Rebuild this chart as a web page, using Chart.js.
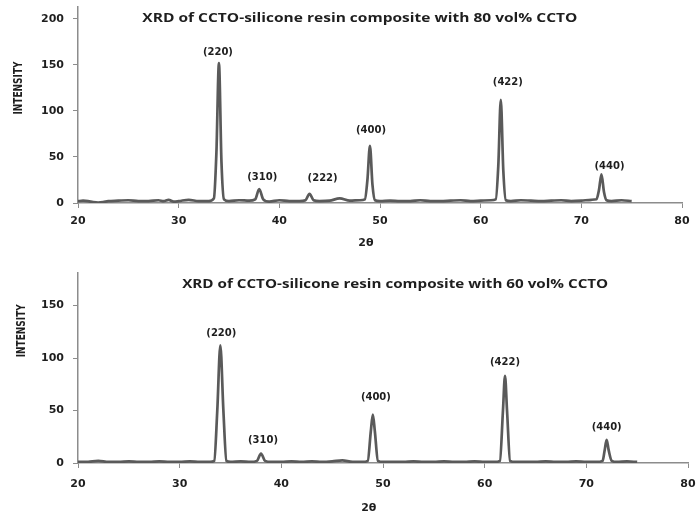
<!DOCTYPE html>
<html>
<head>
<meta charset="utf-8">
<script src="https://cdn.jsdelivr.net/npm/chart.js@4"></script>
<style>
html,body{margin:0;padding:0;background:#fff;}
#wrap{position:relative;width:698px;height:513px;}
#c1{position:absolute;left:0;top:0;}
#c2{position:absolute;left:0;top:256px;}
</style>
</head>
<body>
<div id="wrap">
<canvas id="c1" width="698" height="256"></canvas>
<canvas id="c2" width="698" height="257"></canvas>
</div>
<script>
// ---- data: 80 vol% CCTO ----
const topTitle = "XRD of CCTO-silicone resin composite with 80 vol% CCTO";
const topX = [20,20.5,21,21.5,22,22.5,23,24,25,26,27,28,28.5,29,29.5,30,31,32,33,33.5,33.75,34,34.25,34.5,35,36,37,37.6,38,38.4,39,40,41,42,42.6,43,43.4,44,45,46,47,48,48.5,48.75,49,49.25,49.5,50,51,52,53,54,55,56,57,58,59,60,61,61.5,61.75,62,62.25,62.5,63,64,65,66,67,68,69,70,71,71.5,71.75,72,72.25,72.5,73,74,75];
const topY = [2,2.5,2,1,0.5,1,2,2.5,3,2,2,3,2,3.5,1.5,2,3.5,2,2,5,55,152,45,4,2,3,2.5,4,15,4,1.5,3,2,2,3,10,3,2,2.5,5,2.5,3,4,25,62,20,3,2,2.5,2,2,3,2,2,2.5,3,2,2.5,3,4,40,112,35,3,2,3,2.5,2,2.5,3,2,2.5,3.5,4,14,31,12,3,2,3,2];
const topPeakNames = ["(220)","(310)","(222)","(400)","(422)","(440)"];
const topPeakLabelX = [33.9,38.3,44.3,49.1,62.7,72.8];
const topPeakLabelY = [164,28,27,79,131.5,40];

// ---- data: 60 vol% CCTO ----
const botTitle = "XRD of CCTO-silicone resin composite with 60 vol% CCTO";
const botX = [20,21,22,23,24,25,26,27,28,29,30,31,32,33,33.4,33.7,34,34.3,34.6,35,36,37,37.6,38,38.4,39,40,41,42,43,44,45,46,47,48,48.5,48.8,49,49.2,49.5,50,51,52,53,54,55,56,57,58,59,60,61,61.5,61.8,62,62.2,62.5,63,64,65,66,67,68,69,70,71,71.6,71.8,72,72.2,72.5,73,74,75];
const botY = [1,1.2,2,1,1,1.5,1,1,1.5,1,1,1.5,1,1,2,50,112,50,2,1,1.5,1,2,9,2,1,1,1.5,1,1.5,1,1.5,2.5,1,1,2,30,46,30,2,1,1,1,1.5,1,1,1.5,1,1,1.5,1,1,2,50,83,50,2,1,1,1,1.5,1,1,1.5,1,1,2,12,22,12,2,1,1.5,1];
const botPeakNames = ["(220)","(310)","(400)","(422)","(440)"];
const botPeakLabelX = [34.1,38.2,49.3,62.0,72.0];
const botPeakLabelY = [123,21.7,62.8,96.3,34.1];

const xTickStep = 10;
const yTickStep = 50;
const axisTitleX = "2θ";
const axisTitleY = "INTENSITY";

const LINE = '#5a5a5a';
const AXIS = '#8c8c8c';
const TXT = '#1e1e1e';
const tickFont = {family:"'DejaVu Sans'", size:11, weight:'bold'};

function textPlugin(cfg){
  return {
    id:'txt'+cfg.id,
    afterDraw(chart){
      const ctx = chart.ctx, xs = chart.scales.x, ys = chart.scales.y, a = chart.chartArea;
      ctx.save();
      ctx.fillStyle = TXT;
      ctx.textBaseline = 'middle';
      ctx.textAlign = 'center';
      // title
      ctx.font = "bold 13px 'Open Sans'";
      const tw = ctx.measureText(cfg.title).width;
      const tx = xs.getPixelForValue(cfg.titleX), ty = ys.getPixelForValue(cfg.titleY);
      ctx.save();
      ctx.translate(tx, ty);
      ctx.scale(cfg.titleW / tw, 1);
      ctx.fillText(cfg.title, 0, 0);
      ctx.restore();
      // peak labels
      ctx.font = "bold 10px 'DejaVu Sans'";
      cfg.names.forEach((n,i)=>{
        ctx.fillText(n, xs.getPixelForValue(cfg.lx[i]), ys.getPixelForValue(cfg.ly[i]));
      });
      // x axis title
      ctx.font = "bold 11px 'DejaVu Sans'";
      ctx.fillText(axisTitleX, xs.getPixelForValue(48.6), a.bottom + cfg.xTitleOff);
      // y axis title
      ctx.font = "bold 12px 'Liberation Sans Narrow','DejaVu Sans Condensed',sans-serif";
      ctx.save();
      ctx.translate(cfg.yTitleX, ys.getPixelForValue(cfg.yTitleV));
      ctx.rotate(-Math.PI/2);
      const iw = ctx.measureText(axisTitleY).width;
      ctx.scale(53/iw,1);
      ctx.fillText(axisTitleY, 0, 0);
      ctx.restore();
      ctx.restore();
    }
  };
}

function makeChart(el, xs, ys, o){
  return new Chart(document.getElementById(el), {
    type:'scatter',
    data:{datasets:[{
      data: xs.map((x,i)=>({x:x,y:ys[i]})),
      showLine:true, borderColor:LINE, borderWidth:2.7,
      pointRadius:0, cubicInterpolationMode:'monotone', fill:false
    }]},
    options:{
      responsive:false, animation:false,
      layout:{padding:{left:0,right:o.padRight,top:o.padTop,bottom:0}},
      plugins:{legend:{display:false},tooltip:{enabled:false},title:{display:false}},
      scales:{
        x:{type:'linear', min:20, max:80,
          ticks:{stepSize:xTickStep, font:tickFont, color:TXT, padding:o.xPad, maxRotation:0},
          grid:{display:true, drawOnChartArea:false, drawTicks:true, tickLength:5, color:AXIS},
          border:{display:true, color:AXIS, width:1.5},
          afterFit(s){ s.height = o.xH; s.paddingLeft = 0; s.paddingRight = 0; }
        },
        y:{type:'linear', min:0, max:o.yMax,
          ticks:{stepSize:yTickStep, includeBounds:false, font:tickFont, color:TXT, padding:9},
          grid:{display:true, drawOnChartArea:false, drawTicks:true, tickLength:5, color:AXIS},
          border:{display:true, color:AXIS, width:1.5},
          afterFit(s){ s.width = 78; s.paddingTop = 0; s.paddingBottom = 0; }
        }
      }
    },
    plugins:[textPlugin(o)]
  });
}

makeChart('c1', topX, topY, {
  id:1, padRight:16, padTop:7, xH:53, xPad:7, yMax:213,
  title:topTitle, titleX:48.0, titleY:201, titleW:435,
  names:topPeakNames, lx:topPeakLabelX, ly:topPeakLabelY,
  xTitleOff:40, yTitleX:19, yTitleV:125
});
makeChart('c2', botX, botY, {
  id:2, padRight:10, padTop:17, xH:50, xPad:10, yMax:181,
  title:botTitle, titleX:51.2, titleY:170, titleW:426,
  names:botPeakNames, lx:botPeakLabelX, ly:botPeakLabelY,
  xTitleOff:45, yTitleX:22, yTitleV:126
});
</script>
</body>
</html>
